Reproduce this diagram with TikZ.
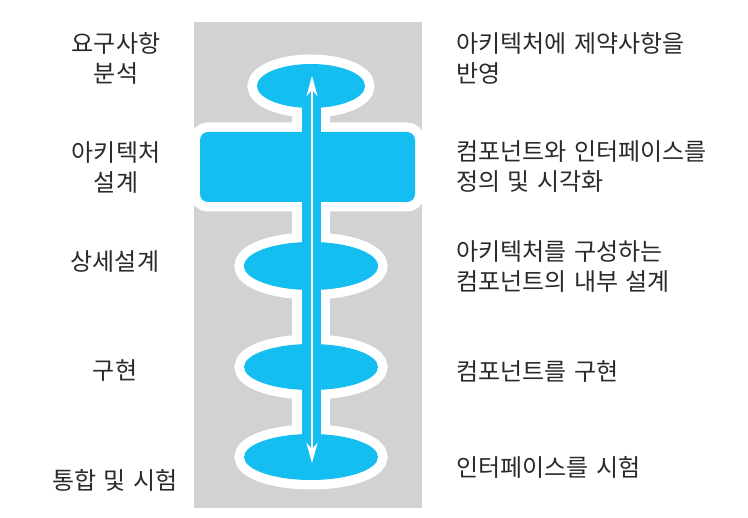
\documentclass[tikz,border=0pt]{standalone}
\usepackage{fontspec}
\newfontfamily\kr[WordSpace=1.4]{Noto Sans CJK KR}
\usetikzlibrary{arrows.meta}
\definecolor{bgray}{HTML}{D1D2D4}
\definecolor{cyanb}{HTML}{14BEF0}
\definecolor{txt}{HTML}{2A2A2A}
\begin{document}
\begin{tikzpicture}[x=1pt,y=-1pt,
  lbl/.style={font=\kr\fontsize{24}{30}\selectfont, text=txt, inner sep=0pt},
  lft/.style={lbl, align=center, anchor=center},
  rgt/.style={lbl, align=left, anchor=west},
  halo/.style={draw=white, fill=white, line width=19pt},
  blue/.style={fill=cyanb}]
\useasboundingbox (0,0) rectangle (748,518);
\fill[white] (0,0) rectangle (748,518);
% gray column
\fill[bgray] (194,22) rectangle (422,508);
% white halo
\fill[white] (292,86) rectangle (330,457);
\path[halo] (311,86) ellipse [x radius=54, y radius=22];
\path[halo, rounded corners=8pt] (200,132) rectangle (415,202);
\path[halo] (311,266) ellipse [x radius=67, y radius=24];
\path[halo] (311,367) ellipse [x radius=67, y radius=23];
\path[halo] (311,457) ellipse [x radius=67, y radius=23];
% blue shapes
\path[blue] (311,86) ellipse [x radius=54, y radius=22];
\path[blue, rounded corners=8pt] (200,132) rectangle (415,202);
\path[blue] (311,266) ellipse [x radius=67, y radius=24];
\path[blue] (311,367) ellipse [x radius=67, y radius=23];
\path[blue] (311,457) ellipse [x radius=67, y radius=23];
\fill[cyanb] (301.5,86) rectangle (320.5,457);
% arrow
\coordinate (top) at (312,76);
\coordinate (bot) at (312,463);
\draw[white, line width=2.6pt, {Stealth[length=20pt,width=11pt,inset=6pt]}-{Stealth[length=20pt,width=11pt,inset=6pt]}] (top) -- (bot);
% left labels
\node[lft] (l1) at (116,58) {요구사항\\분석};
\node[lft] (l2) at (116,168) {아키텍처\\설계};
\node[lft] (l3) at (115,262) {상세설계};
\node[lft] (l4) at (115,371) {구현};
\node[lft] (l5) at (115,480) {통합 및 시험};
% right labels
\node[rgt] (r1) at (456,58) {아키텍처에 제약사항을\\반영};
\node[rgt] (r2) at (456,167) {컴포넌트와 인터페이스를\\정의 및 시각화};
\node[rgt] (r3) at (456,267) {아키텍처를 구성하는\\컴포넌트의 내부 설계};
\node[rgt] (r4) at (456,372) {컴포넌트를 구현};
\node[rgt] (r5) at (456,467) {인터페이스를 시험};
\end{tikzpicture}
\end{document}
